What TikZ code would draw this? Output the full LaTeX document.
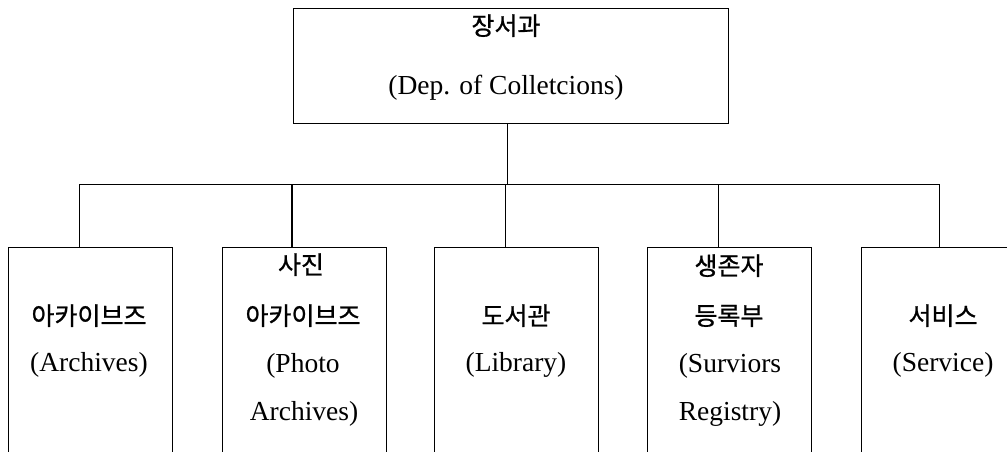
\documentclass[tikz,border=0pt]{standalone}
\usepackage{fontspec}
\setmainfont{Liberation Serif}
\newfontfamily\kr{Noto Sans CJK KR}[FakeBold=0.9]
\begin{document}
\begin{tikzpicture}[x=1pt,y=-1pt,
  unit/.style={draw=black,line width=1pt,fill=none,inner sep=0pt,anchor=north west},
  link/.style={draw=black,line width=1pt},
  kor/.style={inner sep=0pt,anchor=base,font=\kr\fontsize{25}{28}\selectfont},
  eng/.style={inner sep=0pt,anchor=base,font=\fontsize{27.5}{30}\selectfont}]
\useasboundingbox (0,0) rectangle (1007,452);
\fill[white] (0,0) rectangle (1007,452);
\clip (0,0) rectangle (1007,452);

% head department
\node[unit,minimum width=435pt,minimum height=115pt] (top) at (293,8) {};
\node[kor] (topk) at (506,35) {장서과};
\node[eng] (tope) at (506,95) {(Dep. of Colletcions)};

% sections (lower edges run past the page)
\node[unit,minimum width=164pt,minimum height=260pt] (b1) at (8,247) {};
\node[unit,minimum width=164pt,minimum height=260pt] (b2) at (222,247) {};
\node[unit,minimum width=164pt,minimum height=260pt] (b3) at (434,247) {};
\node[unit,minimum width=164pt,minimum height=260pt] (b4) at (647,247) {};
\node[unit,minimum width=164pt,minimum height=260pt] (b5) at (861,247) {};

% bus and drops
\coordinate (j0) at (507,184);
\coordinate (j1) at (79,184);
\coordinate (j2) at (292,184);
\coordinate (j3) at (505,184);
\coordinate (j4) at (718,184);
\coordinate (j5) at (939,184);
\draw[link] (j0 |- top.south) -- (j0);
\draw[link] (j1 |- b1.north) -- (j1) -- (j5) -- (j5 |- b5.north);
\draw[link,line width=1.7pt] (j2) -- (j2 |- b2.north);
\draw[link] (j3) -- (j3 |- b3.north);
\draw[link] (j4) -- (j4 |- b4.north);

% section labels
\node[kor] (t1a) at (89,325) {아카이브즈};
\node[eng] (t1b) at (89,371) {(Archives)};

\node[kor] (t2a) at (301,274) {사진};
\node[kor] (t2b) at (303,325) {아카이브즈};
\node[eng] (t2c) at (303,372) {(Photo};
\node[eng] (t2d) at (304,420) {Archives)};

\node[kor] (t3a) at (516,325) {도서관};
\node[eng] (t3b) at (516,371) {(Library)};

\node[kor] (t4a) at (729,275) {생존자};
\node[kor] (t4b) at (729,325) {등록부};
\node[eng] (t4c) at (730,372) {(Surviors};
\node[eng] (t4d) at (730,420) {Registry)};

\node[kor] (t5a) at (943,325) {서비스};
\node[eng] (t5b) at (943,371) {(Service)};
\end{tikzpicture}
\end{document}
